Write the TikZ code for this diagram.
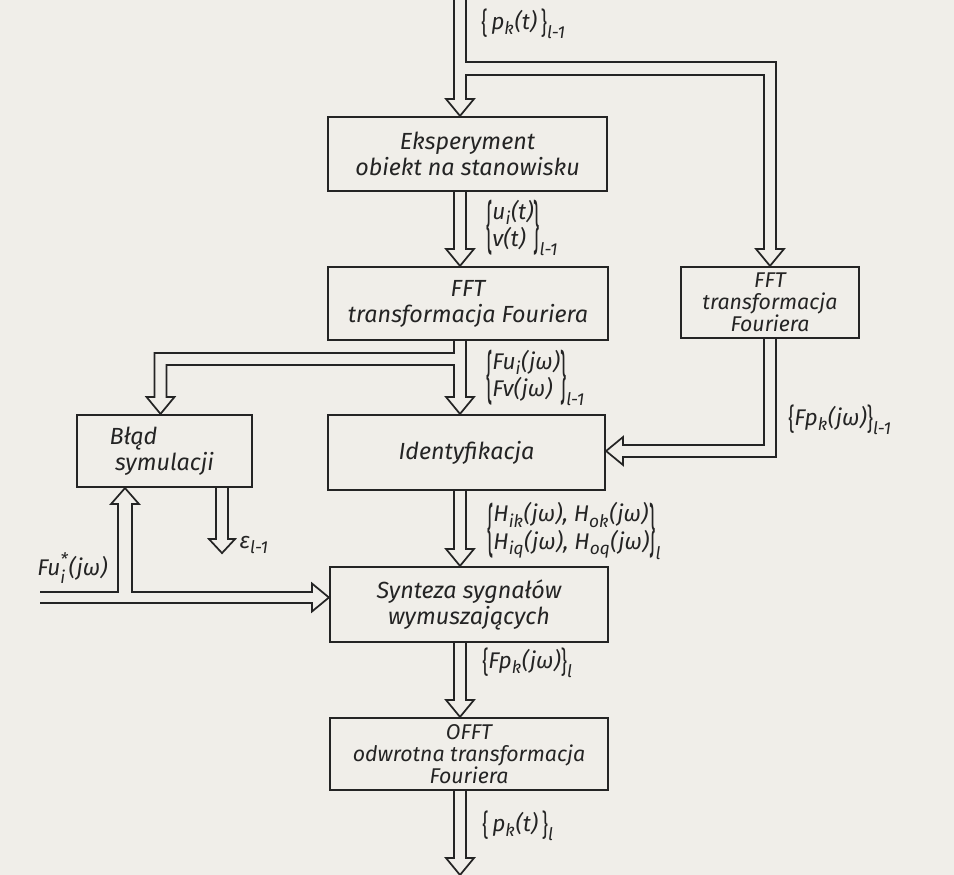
\documentclass[tikz,border=0pt]{standalone}
\usepackage{amsmath}
\usepackage{fontspec}
\setmainfont{Fira Sans}
\usetikzlibrary{calc}
\DeclareMathSizes{17}{17}{13}{10}
\definecolor{ink}{RGB}{36,36,36}
\definecolor{paper}{RGB}{240,238,233}
\newcommand{\tx}[1]{\textit{#1}}
\newcommand{\Lbr}[1]{\vcenter{\hbox{\upshape\scalebox{0.85}[#1]{\{}}}}
\newcommand{\Rbr}[1]{\vcenter{\hbox{\upshape\scalebox{0.85}[#1]{\}}}}}
\newcommand{\rows}[2]{\vcenter{\hbox{\begin{tabular}{@{}l@{}}#1\\#2\end{tabular}}}}
\newcommand{\hdown}[2]{%
  \draw[conn] ($(#1)+(-6,0)$) -- ($(#2)+(-6,-17)$) -- ($(#2)+(-14,-17)$) -- (#2)
    -- ($(#2)+(14,-17)$) -- ($(#2)+(6,-17)$) -- ($(#1)+(6,0)$);}
\begin{document}
\begin{tikzpicture}[x=0.75pt,y=-0.75pt,
  box/.style={draw=ink, line width=1.6pt, align=center, text=ink, inner sep=0pt,
    font=\itshape\fontsize{17.5}{19.5}\selectfont},
  box3/.style={box, font=\itshape\fontsize{16}{16.5}\selectfont},
  conn/.style={draw=ink, line width=1.3pt, line join=miter},
  lbl/.style={text=ink, inner sep=0pt, anchor=west, font=\itshape\fontsize{17}{20.5}\selectfont}]
\fill[paper] (0,0) rectangle (954,875);
\useasboundingbox (0,0) rectangle (954,875);

% boxes
\node[box, minimum width=209.25pt, minimum height=55.5pt] (eks) at (467.5,154) {Eksperyment\\obiekt na stanowisku};
\node[box, minimum width=210pt, minimum height=54.75pt] (fft) at (468,303.5) {FFT\\transformacja Fouriera};
\node[box3, minimum width=133.5pt, minimum height=53.25pt] (fft2) at (770,302.5) {FFT\\transformacja\\Fouriera};
\node[box, align=left, minimum width=131.25pt, minimum height=54pt] (blad) at (164.5,451) {\hspace*{-4pt}Błąd\\symulacji};
\node[box, minimum width=207.75pt, minimum height=56.25pt] (ident) at (466.5,452.5) {Identyfikacja};
\node[box, minimum width=208.5pt, minimum height=56.25pt] (synt) at (469,604.5) {Synteza sygnałów\\wymuszających};
\node[box3, minimum width=208.5pt, minimum height=54pt] (offt) at (469,754) {OFFT\\odwrotna transformacja\\Fouriera};

% coordinates
\coordinate (col) at (460,0);
\coordinate (in) at (460,0);
\coordinate (out) at (460,875);
\coordinate (t1) at (col |- eks.north);
\coordinate (t2) at (fft2.north);
\coordinate (s) at (col |- fft.south);
\coordinate (tb) at ($(blad.north)+(-4,0)$);
\coordinate (ti) at (col |- ident.north);
\coordinate (s2) at (fft2.south);
\coordinate (ti2) at ($(ident.east)+(0,-1.5)$);
\coordinate (e0) at ($(blad.south)+(57.5,0)$);
\coordinate (e1) at ($(e0)+(0,65)$);
\coordinate (fin1) at (40,592);
\coordinate (fin2) at (40,603);
\coordinate (tb2) at ($(blad.south)+(-39.5,0)$);
\coordinate (ts) at (synt.west |- 0,597.5);
\coordinate (a1) at (col |- eks.south);
\coordinate (a2) at (col |- fft.north);
\coordinate (a3) at (col |- ident.south);
\coordinate (a4) at (col |- synt.north);
\coordinate (a5) at (col |- synt.south);
\coordinate (a6) at (col |- offt.north);
\coordinate (a7) at (col |- offt.south);

% top input with branch to the right FFT
\draw[conn] ($(in)+(-6,0)$) -- ($(t1)+(-6,-17)$) -- ($(t1)+(-14,-17)$) -- (t1)
  -- ($(t1)+(14,-17)$) -- ($(t1)+(6,-17)$) -- ($(in)+(6,75)$) -- ($(t2 |- in)+(-6,75)$)
  -- ($(t2)+(-6,-17)$) -- ($(t2)+(-14,-17)$) -- (t2) -- ($(t2)+(14,-17)$) -- ($(t2)+(6,-17)$)
  -- ($(t2 |- in)+(6,62)$) -- ($(in)+(6,62)$) -- ($(in)+(6,0)$);

% Eksperyment -> FFT
\hdown{a1}{a2}

% FFT -> Blad and Identyfikacja
\draw[conn] ($(s)+(-6,0)$) -- ($(s)+(-6,12)$) -- ($(tb |- s)+(-6,12)$) -- ($(tb)+(-6,-17)$)
  -- ($(tb)+(-14,-17)$) -- (tb) -- ($(tb)+(14,-17)$) -- ($(tb)+(6,-17)$)
  -- ($(tb |- s)+(6,24)$) -- ($(s)+(-6,24)$) -- ($(ti)+(-6,-17)$) -- ($(ti)+(-14,-17)$)
  -- (ti) -- ($(ti)+(14,-17)$) -- ($(ti)+(6,-17)$) -- ($(s)+(6,0)$);

% FFT (right) -> Identyfikacja
\draw[conn] ($(s2)+(-6,0)$) -- ($(s2 |- ti2)+(-6,-6)$) -- ($(ti2)+(17,-6)$) -- ($(ti2)+(17,-14)$)
  -- (ti2) -- ($(ti2)+(17,14)$) -- ($(ti2)+(17,6)$) -- ($(s2 |- ti2)+(6,6)$) -- ($(s2)+(6,0)$);

% Identyfikacja -> Synteza
\hdown{a3}{a4}

% Blad -> epsilon
\draw[conn] ($(e0)+(-6,0)$) -- ($(e1)+(-6,-14)$) -- ($(e1)+(-13,-14)$) -- (e1)
  -- ($(e1)+(13,-14)$) -- ($(e1)+(6,-14)$) -- ($(e0)+(6,0)$);

% Fu* input -> Blad and Synteza
\draw[conn] (fin1) -- ($(tb2 |- fin1)+(-7,0)$) -- ($(tb2)+(-7,16)$) -- ($(tb2)+(-14,16)$) -- (tb2)
  -- ($(tb2)+(14,16)$) -- ($(tb2)+(7,16)$) -- ($(tb2 |- fin1)+(7,0)$) -- ($(ts)+(-17,-5.5)$)
  -- ($(ts)+(-17,-14)$) -- (ts) -- ($(ts)+(-17,14)$) -- ($(ts)+(-17,5.5)$) -- (fin2);

% Synteza -> OFFT -> output
\hdown{a5}{a6}
\hdown{a7}{out}

% labels
\node[lbl] (lpin) at (481,24) {$\Lbr{1.3}\,\tx{p}_{\tx{k}}\tx{(t)}\,{\Rbr{1.3}}_{\tx{l-1}}$};
\node[lbl] (luv) at (486,228) {$\Lbr{2.5}\rows{$\tx{u}_{\tx{i}}\tx{(t)}$}{$\tx{v(t)}$}{\Rbr{2.5}}_{\tx{l-1}}$};
\node[lbl] (lfuv) at (486,378) {$\Lbr{2.5}\rows{$\tx{Fu}_{\tx{i}}\tx{(jω)}$}{$\tx{Fv(jω)}$}{\Rbr{2.5}}_{\tx{l-1}}$};
\node[lbl] (lfp1) at (788,420) {$\Lbr{1.3}\tx{Fp}_{\tx{k}}\tx{(jω)}{\Rbr{1.3}}_{\tx{l-1}}$};
\node[lbl] (lh) at (487,531) {$\Lbr{2.5}\rows{$\tx{H}_{\tx{ik}}\tx{(jω), H}_{\tx{ok}}\tx{(jω)}$}{$\tx{H}_{\tx{iq}}\tx{(jω), H}_{\tx{oq}}\tx{(jω)}$}{\Rbr{2.5}}_{\tx{l}}$};
\node[lbl] (leps) at (239,545) {$\tx{ε}_{\tx{l-1}}$};
\node[lbl] (lfus) at (37,568) {$\tx{Fu}^{\tx{*}}_{\tx{i}}\tx{(jω)}$};
\node[lbl] (lfp2) at (482,663) {$\Lbr{1.3}\tx{Fp}_{\tx{k}}\tx{(jω)}{\Rbr{1.3}}_{\tx{l}}$};
\node[lbl] (lpout) at (482,826) {$\Lbr{1.3}\,\tx{p}_{\tx{k}}\tx{(t)}\,{\Rbr{1.3}}_{\tx{l}}$};
\end{tikzpicture}
\end{document}
